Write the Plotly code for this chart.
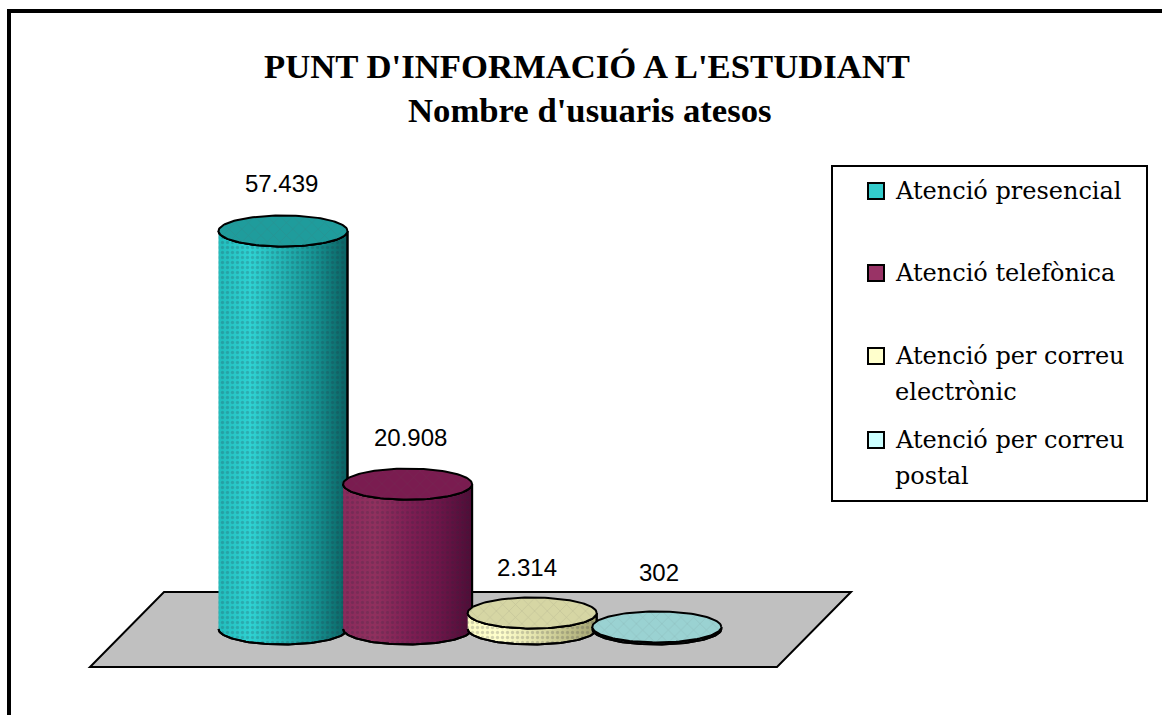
import numpy as np
import plotly.graph_objects as go

W, H = 1162, 715

title_lines = ["PUNT D'INFORMACIÓ A L'ESTUDIANT", "Nombre d'usuaris atesos"]
categories = ["Atenció presencial", "Atenció telefònica",
              "Atenció per correu<br>electrònic", "Atenció per correu<br>postal"]
values = [57439, 20908, 2314, 302]

swatch_colors = ["#33cccc", "#993366", "#ffffcc", "#ccffff"]
top_colors = ["#1f9c9c", "#7a1c50", "#d6d6a4", "#9ad2d2"]
side_scales = [
    ["#22bcbc", "#2ed2d2", "#22b4b4", "#159292", "#0a6262"],
    ["#8a2a5c", "#90305e", "#7f1f54", "#6c1548", "#4e0c36"],
    ["#fbfbc4", "#ffffcc", "#e6e6b0", "#c4c48e", "#a2a270"],
    ["#9ad2d2", "#9ad2d2", "#9ad2d2", "#9ad2d2", "#9ad2d2"],
]

# layout of the fake 3d scene, in pixels
BASE_PX = 629
FIRST_PX = 283
STEP_PX = 124.6
PX_PER_UNIT = 0.00693
RX_PX = 64.5
RY_PX = 15.5


def px(x):
    return x / W


def py(y):
    return 1 - y / H


def cylinder(i, value):
    rx = RX_PX / STEP_PX
    ry = RY_PX / PX_PER_UNIT
    t_front = np.linspace(np.pi, 2 * np.pi, 60)
    t_back = np.linspace(2 * np.pi, np.pi, 60)

    side_x = np.concatenate([i + rx * np.cos(t_front), i + rx * np.cos(t_back)])
    side_y = np.concatenate([ry * np.sin(t_front), value + np.full(60, 0.0) + ry * np.sin(t_front[::-1])])

    t = np.linspace(0, 2 * np.pi, 120)
    top_x = i + rx * np.cos(t)
    top_y = value + ry * np.sin(t)
    return side_x, side_y, top_x, top_y


fig = go.Figure()

for i, value in enumerate(values):
    side_x, side_y, top_x, top_y = cylinder(i, value)
    stops = np.linspace(0, 1, len(side_scales[i]))
    fig.add_trace(go.Scatter(
        x=side_x, y=side_y, mode='lines', fill='toself',
        line=dict(color='black', width=2),
        fillgradient=dict(type='horizontal',
                          colorscale=[[s, c] for s, c in zip(stops, side_scales[i])]),
        hoverinfo='skip', showlegend=False,
    ))
    fig.add_trace(go.Scatter(
        x=side_x, y=side_y, mode='lines', fill='toself',
        line=dict(color='black', width=2),
        fillcolor='rgba(0,0,0,0)',
        fillpattern=dict(shape='.', size=5, solidity=0.35, fgcolor='rgba(40,40,60,0.4)',
                         bgcolor='rgba(0,0,0,0)'),
        hoverinfo='skip', showlegend=False,
    ))
    fig.add_trace(go.Scatter(
        x=top_x, y=top_y, mode='lines', fill='toself',
        line=dict(color='black', width=2),
        fillcolor=top_colors[i],
        fillpattern=dict(shape='x', size=9, solidity=0.12, fgcolor='rgba(90,90,90,0.35)',
                         bgcolor=top_colors[i]),
        hoverinfo='skip', showlegend=False,
    ))

shapes = [
    # floor
    dict(type='path', xref='paper', yref='paper', layer='below',
         path=f"M {px(164)} {py(592)} L {px(851)} {py(592)} L {px(777)} {py(667)} L {px(90)} {py(667)} Z",
         fillcolor='#c0c0c0', line=dict(color='black', width=2)),
    # picture frame, only top and left are in the crop
    dict(type='line', xref='paper', yref='paper', x0=px(7), x1=1, y0=py(11), y1=py(11),
         line=dict(color='black', width=4)),
    dict(type='line', xref='paper', yref='paper', x0=px(9), x1=px(9), y0=py(9), y1=0,
         line=dict(color='black', width=4)),
    # legend box
    dict(type='rect', xref='paper', yref='paper', x0=px(832), x1=px(1147), y0=py(166), y1=py(501),
         fillcolor='white', line=dict(color='black', width=2)),
]

annotations = []


def add_text(text, x, y, size, family, anchor='center'):
    annotations.append(dict(
        text=text, xref='paper', yref='paper', x=px(x), y=py(y),
        xanchor=anchor, yanchor='middle', showarrow=False,
        font=dict(size=size, family=family, color='black'),
    ))


add_text(f"<b>{title_lines[0]}</b>", 587, 66, 34.7, 'Liberation Serif')
add_text(f"<b>{title_lines[1]}</b>", 590, 111, 34.7, 'Liberation Serif')

# value labels hang off the data, with a small pixel nudge
label_shift_x = [-2, 3, -5, 2]
label_shift_y = [47, 47, 45, 54]
for i, value in enumerate(values):
    annotations.append(dict(
        text=f"{value:,}".replace(",", "."), x=i, y=value, xref='x', yref='y',
        xshift=label_shift_x[i], yshift=label_shift_y[i], showarrow=False,
        font=dict(size=24, family='Liberation Sans', color='black'),
    ))

# hand built legend, entries sit at uneven heights
legend_rows = [191, 273, 356, 440]
legend_line_gap = 36
for row, name, color in zip(legend_rows, categories, swatch_colors):
    shapes.append(dict(type='rect', xref='paper', yref='paper',
                       x0=px(868), x1=px(884), y0=py(row - 8), y1=py(row + 8),
                       fillcolor=color, line=dict(color='black', width=2)))
    for n, part in enumerate(name.split('<br>')):
        add_text(part, 893, row + n * legend_line_gap, 24, 'DejaVu Serif', anchor='left')

fig.update_layout(
    width=W, height=H,
    margin=dict(l=0, r=0, t=0, b=0),
    paper_bgcolor='white', plot_bgcolor='white',
    showlegend=False,
    xaxis=dict(visible=False, fixedrange=True,
               range=[-FIRST_PX / STEP_PX, (W - FIRST_PX) / STEP_PX]),
    yaxis=dict(visible=False, fixedrange=True,
               range=[(BASE_PX - H) / PX_PER_UNIT, BASE_PX / PX_PER_UNIT]),
    shapes=shapes,
    annotations=annotations,
)

fig.write_html("out.html", post_script="document.body.style.margin='0';",
               config=dict(displayModeBar=False))
